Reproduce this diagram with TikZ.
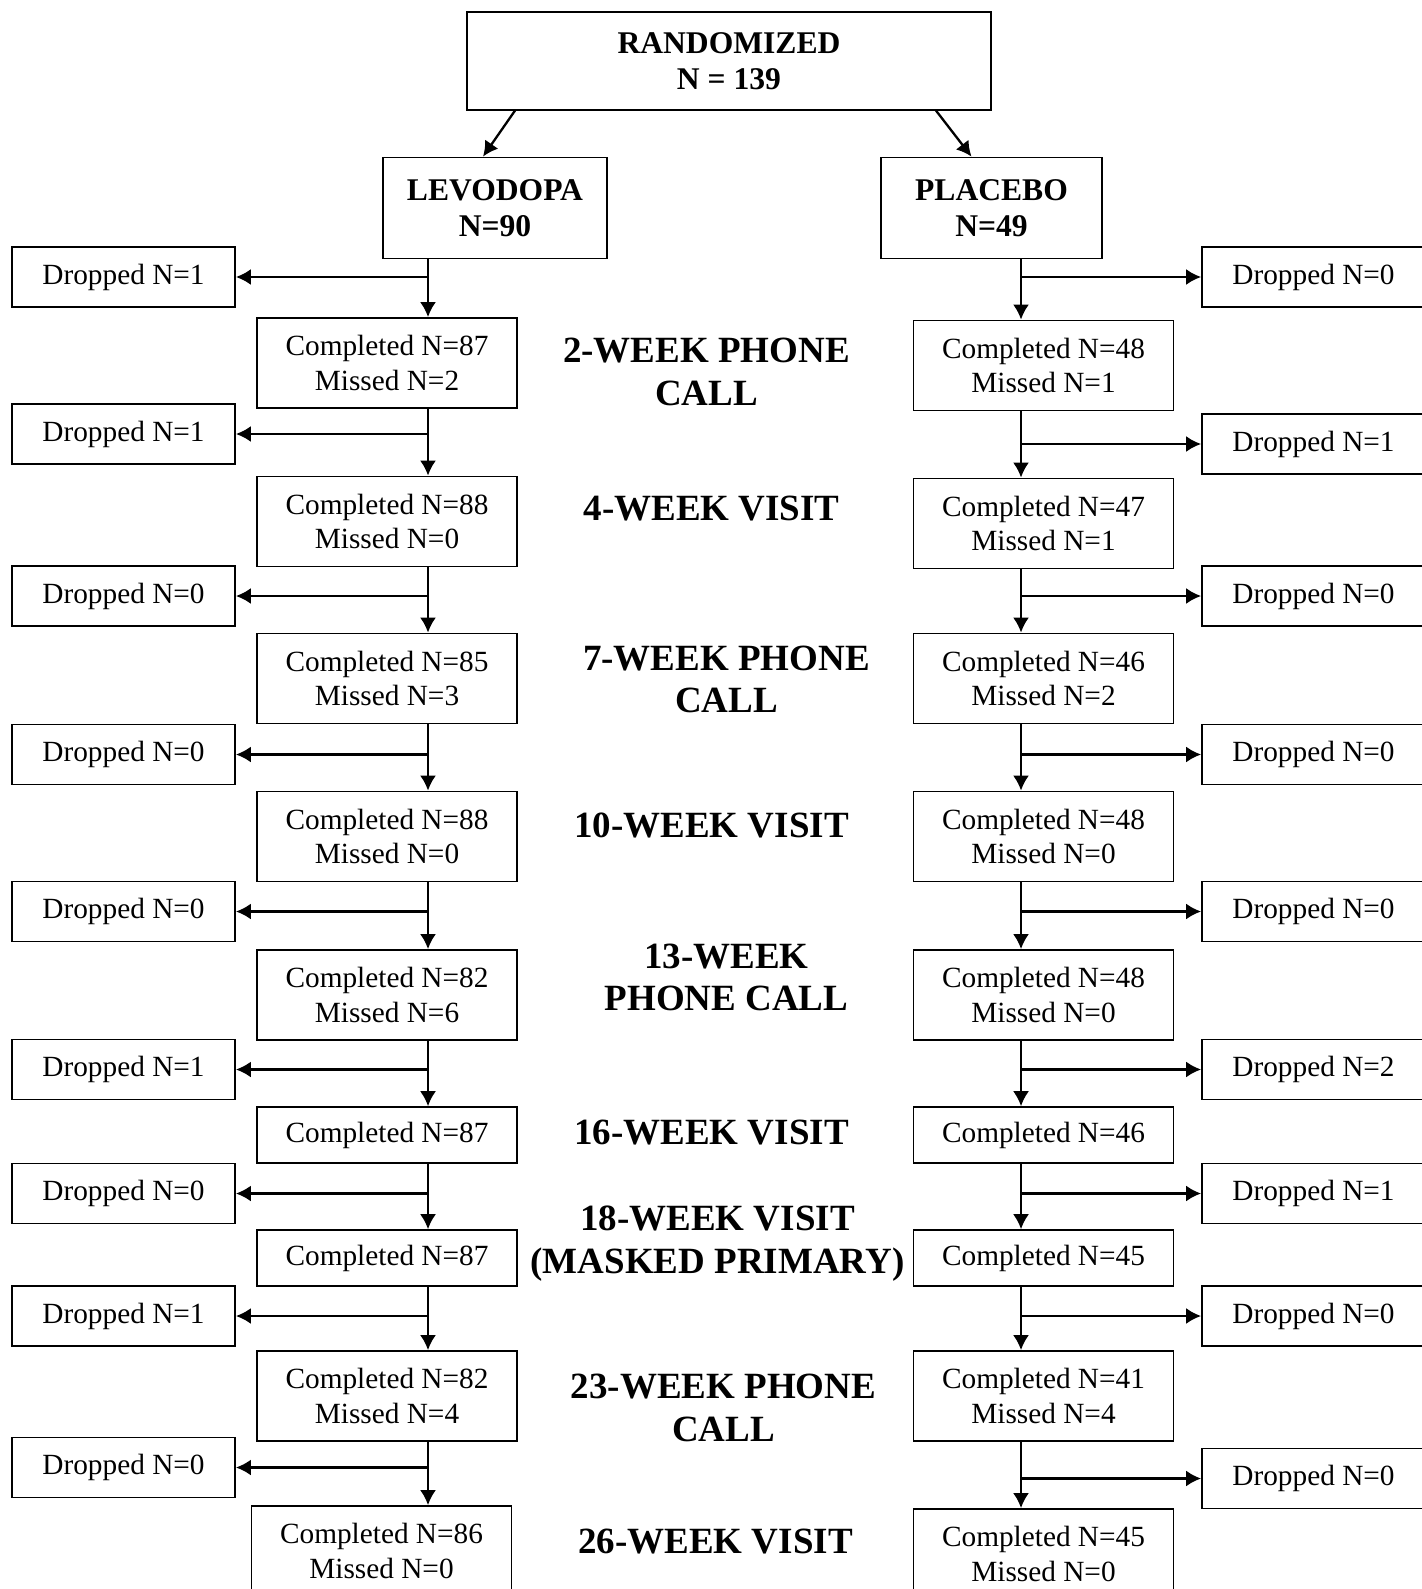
\documentclass[tikz,border=0pt]{standalone}
\usepackage{fontspec}
\setmainfont{Liberation Serif}
\usetikzlibrary{arrows.meta,calc,positioning}

\begin{document}
\begin{tikzpicture}[
    x=0.5pt, y=-0.5pt,
    >={Latex[length=7.5pt,width=8pt]},
    flow/.style={->,line width=1.15pt},
    box/.style={draw,line width=0.9pt,inner sep=0pt,align=center,font=\fontsize{14.65}{17.2}\selectfont},
    drop/.style={box,minimum width=111.5pt,minimum height=30pt},
    done/.style={box,minimum width=130pt,minimum height=45pt},
    doneone/.style={box,minimum width=130pt,minimum height=27.9pt},
    arm/.style={box,font=\fontsize{15.8}{18.2}\selectfont\bfseries,minimum height=50.5pt},
    visit/.style={align=center,font=\fontsize{18.5}{21.3}\selectfont\bfseries}
]
\path[use as bounding box,clip] (0,0) rectangle (1422,1589);

% --- Top ---
\node[arm,minimum width=262pt,minimum height=48.7pt] (Rand) at (729,61) {RANDOMIZED\\N = 139};
\node[arm,minimum width=112pt] (Levo) at (495,208) {LEVODOPA\\N=90};
\node[arm,minimum width=110.5pt] (Plac) at (991.5,208) {PLACEBO\\N=49};

\draw[flow] ($(Rand.south)+(-214,0)$) -- ($(Levo.north)+(-12,0)$);
\draw[flow] ($(Rand.south)+(207,0)$) -- ($(Plac.north)+(-20,0)$);

% spines of the two arms
\coordinate (spineL) at (428,0);
\coordinate (spineR) at (1021,0);

% --- Levodopa arm ---
\node[drop] (LD1) at (123.5,277) {Dropped N=1};
\node[done] (LC1) at (387,363) {Completed N=87\\Missed N=2};
\node[drop] (LD2) at (123.5,434) {Dropped N=1};
\node[done] (LC2) at (387,521.5) {Completed N=88\\Missed N=0};
\node[drop] (LD3) at (123.5,596) {Dropped N=0};
\node[done] (LC3) at (387,678.5) {Completed N=85\\Missed N=3};
\node[drop] (LD4) at (123.5,754.5) {Dropped N=0};
\node[done] (LC4) at (387,836.5) {Completed N=88\\Missed N=0};
\node[drop] (LD5) at (123.5,911.5) {Dropped N=0};
\node[done] (LC5) at (387,995) {Completed N=82\\Missed N=6};
\node[drop] (LD6) at (123.5,1069.5) {Dropped N=1};
\node[doneone] (LC6) at (387,1135) {Completed N=87};
\node[drop] (LD7) at (123.5,1193.5) {Dropped N=0};
\node[doneone] (LC7) at (387,1258) {Completed N=87};
\node[drop] (LD8) at (123.5,1316) {Dropped N=1};
\node[done] (LC8) at (387,1396) {Completed N=82\\Missed N=4};
\node[drop] (LD9) at (123.5,1467.5) {Dropped N=0};
\node[done] (LC9) at (381.5,1551) {Completed N=86\\Missed N=0};

% --- Placebo arm ---
\node[drop] (PD1) at (1313.5,277) {Dropped N=0};
\node[done] (PC1) at (1043.5,365.5) {Completed N=48\\Missed N=1};
\node[drop] (PD2) at (1313.5,444) {Dropped N=1};
\node[done] (PC2) at (1043.5,523.5) {Completed N=47\\Missed N=1};
\node[drop] (PD3) at (1313.5,596) {Dropped N=0};
\node[done] (PC3) at (1043.5,678.5) {Completed N=46\\Missed N=2};
\node[drop] (PD4) at (1313.5,754.5) {Dropped N=0};
\node[done] (PC4) at (1043.5,836.5) {Completed N=48\\Missed N=0};
\node[drop] (PD5) at (1313.5,911.5) {Dropped N=0};
\node[done] (PC5) at (1043.5,995) {Completed N=48\\Missed N=0};
\node[drop] (PD6) at (1313.5,1069.5) {Dropped N=2};
\node[doneone] (PC6) at (1043.5,1135) {Completed N=46};
\node[drop] (PD7) at (1313.5,1193.5) {Dropped N=1};
\node[doneone] (PC7) at (1043.5,1258) {Completed N=45};
\node[drop] (PD8) at (1313.5,1316) {Dropped N=0};
\node[done] (PC8) at (1043.5,1396) {Completed N=41\\Missed N=4};
\node[drop] (PD9) at (1313.5,1478.5) {Dropped N=0};
\node[done] (PC9) at (1043.5,1554) {Completed N=45\\Missed N=0};

% --- Visits ---
\node[visit] (W2) at (706.5,372) {2-WEEK PHONE\\CALL};
\node[visit] (W4) at (711.5,509) {4-WEEK VISIT};
\node[visit] (W7) at (726.5,679.5) {7-WEEK PHONE\\CALL};
\node[visit] (W10) at (711.5,825) {10-WEEK VISIT};
\node[visit] (W13) at (726.5,977.5) {13-WEEK\\PHONE CALL};
\node[visit] (W16) at (711.5,1133) {16-WEEK VISIT};
\node[visit] (W18) at (717.5,1243.5) {18-WEEK VISIT\\(MASKED PRIMARY)};
\node[visit] (W23) at (723.5,1408) {23-WEEK PHONE\\CALL};
\node[visit] (W26) at (715.5,1541.5) {26-WEEK VISIT};

% --- Flow, levodopa ---
\draw[flow] (Levo.south -| spineL) -- (LC1.north -| spineL);
\draw[flow] (LC1.south -| spineL) -- (LC2.north -| spineL);
\draw[flow] (LC2.south -| spineL) -- (LC3.north -| spineL);
\draw[flow] (LC3.south -| spineL) -- (LC4.north -| spineL);
\draw[flow] (LC4.south -| spineL) -- (LC5.north -| spineL);
\draw[flow] (LC5.south -| spineL) -- (LC6.north -| spineL);
\draw[flow] (LC6.south -| spineL) -- (LC7.north -| spineL);
\draw[flow] (LC7.south -| spineL) -- (LC8.north -| spineL);
\draw[flow] (LC8.south -| spineL) -- (LC9.north -| spineL);
\draw[flow] (LD1.east -| spineL) -- (LD1.east);
\draw[flow] (LD2.east -| spineL) -- (LD2.east);
\draw[flow] (LD3.east -| spineL) -- (LD3.east);
\draw[flow] (LD4.east -| spineL) -- (LD4.east);
\draw[flow] (LD5.east -| spineL) -- (LD5.east);
\draw[flow] (LD6.east -| spineL) -- (LD6.east);
\draw[flow] (LD7.east -| spineL) -- (LD7.east);
\draw[flow] (LD8.east -| spineL) -- (LD8.east);
\draw[flow] (LD9.east -| spineL) -- (LD9.east);

% --- Flow, placebo ---
\draw[flow] (Plac.south -| spineR) -- (PC1.north -| spineR);
\draw[flow] (PC1.south -| spineR) -- (PC2.north -| spineR);
\draw[flow] (PC2.south -| spineR) -- (PC3.north -| spineR);
\draw[flow] (PC3.south -| spineR) -- (PC4.north -| spineR);
\draw[flow] (PC4.south -| spineR) -- (PC5.north -| spineR);
\draw[flow] (PC5.south -| spineR) -- (PC6.north -| spineR);
\draw[flow] (PC6.south -| spineR) -- (PC7.north -| spineR);
\draw[flow] (PC7.south -| spineR) -- (PC8.north -| spineR);
\draw[flow] (PC8.south -| spineR) -- (PC9.north -| spineR);
\draw[flow] (PD1.west -| spineR) -- (PD1.west);
\draw[flow] (PD2.west -| spineR) -- (PD2.west);
\draw[flow] (PD3.west -| spineR) -- (PD3.west);
\draw[flow] (PD4.west -| spineR) -- (PD4.west);
\draw[flow] (PD5.west -| spineR) -- (PD5.west);
\draw[flow] (PD6.west -| spineR) -- (PD6.west);
\draw[flow] (PD7.west -| spineR) -- (PD7.west);
\draw[flow] (PD8.west -| spineR) -- (PD8.west);
\draw[flow] (PD9.west -| spineR) -- (PD9.west);
\end{tikzpicture}
\end{document}
